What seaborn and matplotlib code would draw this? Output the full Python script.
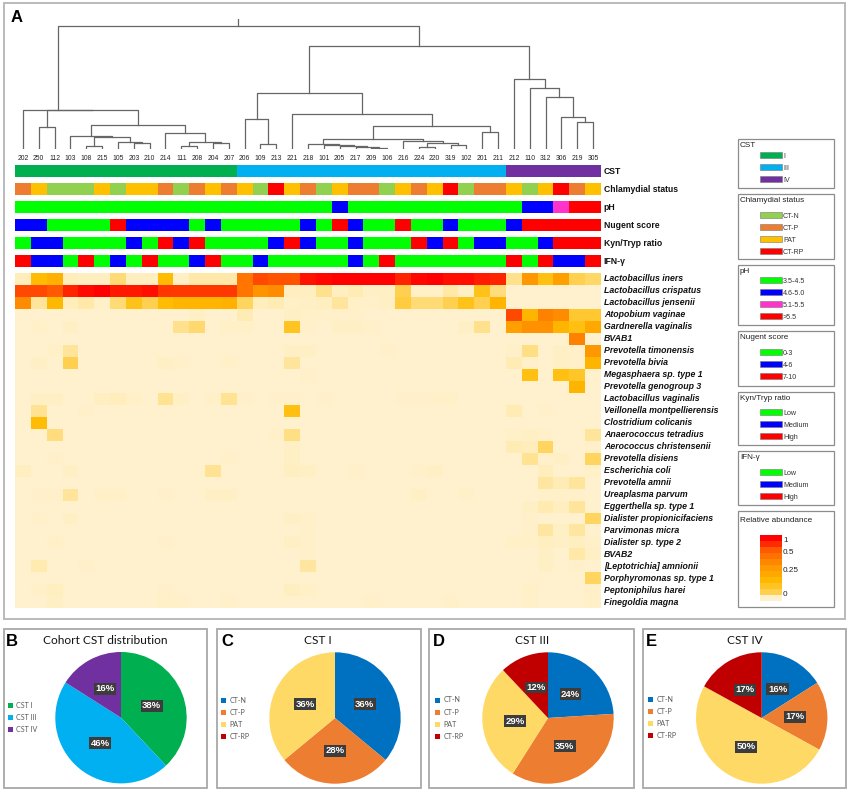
import numpy as np
import pandas as pd
import matplotlib
matplotlib.use("Agg")
import matplotlib.pyplot as plt
import seaborn as sns
from matplotlib.colors import ListedColormap, LinearSegmentedColormap
from matplotlib.patches import Rectangle, Patch

# ---------- data ----------
samples = ["202","250","112","103","108","215","105","203","210","214","111","208","204","207",
           "206","109","213","221","218","101","205","217","209","106","216","224","220","319","102","201","211",
           "212","110","312","306","219","305"]

# dendrogram: (merge height, left, right)
tree_cst1 = (39.5, "202", (39, (21.7, "250", "112"),
             (24, (13.3, "103", (12.5, (3, "108", "215"), (7.3, "105", (6, "203", "210")))),
                  (16.3, "214", (7.3, (3.3, "111", "208"), (5.7, "204", "207"))))))
tree_chain = (5, "218", (4.3, "101", (3.5, "205", (2, "217", (0.7, "209", "106")))))
tree_b = (8, "216", (6.3, (2, "224", "220"), (4, "319", "102")))
tree_cst3 = (56, (30.3, "206", (5.3, "109", "213")),
             (35.3, "221", (23, (10.3, tree_chain, tree_b), (17, "201", "211"))))
tree_cst4 = (70, "212", (61.3, "110", (52.3, "312", (32.3, "306", (27.3, "219", "305")))))
tree_root = (123, tree_cst1, (102.7, tree_cst3, tree_cst4))
root_stem_top = 130

cst_status = [0]*14 + [1]*17 + [2]*6
chlamydial = [1,2,0,0,0,2,0,2,2,1,0,1,2,1,2,0,3,2,1,0,2,1,1,0,2,1,2,3,0,1,1,2,0,2,3,1,2]
ph_status = [0]*20 + [1] + [0]*11 + [1,1,2,3,3]
nugent = [1,1,0,0,0,0,2,1,1,1,1,0,1,0,0,0,0,0,1,0,2,1,0,0,2,0,0,1,0,0,0,1,2,2,2,2,2]
kyn_tryp = [0,1,1,0,0,0,0,1,0,2,1,2,0,0,0,0,1,2,1,0,0,1,0,0,0,2,1,2,0,1,1,0,0,1,2,2,2]
ifn_gamma = [2,1,1,0,2,0,1,0,2,0,0,1,2,0,0,1,0,0,0,0,0,1,0,2,0,0,0,0,0,0,0,2,0,2,1,1,2]

species = ["Lactobacillus iners","Lactobacillus crispatus","Lactobacillus jensenii","Atopobium vaginae",
           "Gardnerella vaginalis","BVAB1","Prevotella timonensis","Prevotella bivia","Megasphaera sp. type 1",
           "Prevotella genogroup 3","Lactobacillus vaginalis","Veillonella montpellierensis","Clostridium colicanis",
           "Anaerococcus tetradius","Aerococcus christensenii","Prevotella disiens","Escherichia coli",
           "Prevotella amnii","Ureaplasma parvum","Eggerthella sp. type 1","Dialister propionicifaciens",
           "Parvimonas micra","Dialister sp. type 2","BVAB2","[Leptotrichia] amnionii","Porphyromonas sp. type 1",
           "Peptoniphilus harei","Finegoldia magna"]

ab_iners = [5,30,35,5,4,4,15,4,4,30,3,8,8,8,60,80,75,75,95,98,100,100,100,100,90,98,100,96,96,92,90,12,45,28,42,20,17]
ab_crispatus = [80,80,72,90,97,100,93,93,96,85,84,84,84,84,60,47,50,4,4,12,4,6,3,3,20,2,2,8,3,27,14,0,0,0,0,0,0]
ab_jensenii = [50,10,32,5,8,2,15,27,20,30,33,33,33,35,18,5,6,2,3,4,10,2,1,3,22,15,15,20,27,20,33,0,0,0,0,0,0]
# remaining species: mostly absent, {sample: abundance}
ab_atopobium = {"208":3,"206":6,"221":3,"218":2,"101":1,"205":1,"217":1,"212":80,"110":33,"312":55,"306":50,"219":24,"305":24}
ab_gardnerella = {"250":2,"103":3,"111":12,"208":16,"207":2,"206":2,"221":26,"218":1,"205":3,"217":3,"209":1,"102":3,"201":12,"212":42,"110":48,"312":48,"306":33,"219":28,"305":38}
ab_bvab1 = {"219":55}
ab_timonensis = {"112":2,"103":10,"221":3,"218":3,"106":1,"212":1,"110":13,"306":3,"219":1,"305":45}
ab_bivia = {"250":3,"103":20,"214":3,"111":1,"207":2,"221":10,"212":6,"110":1,"306":3,"219":1,"305":33}
ab_megasphaera = {"218":1,"110":28,"306":28,"219":25}
ab_genogroup3 = {"219":33}
ab_lvaginalis = {"250":3,"112":3,"215":4,"105":5,"203":2,"214":11,"111":3,"204":2,"207":11,"206":1,"213":1,"221":1,"101":1,"216":1,"224":1,"220":1,"319":2}
ab_veillonella = {"250":11,"108":1,"221":28,"212":6,"312":1}
ab_clostridium = {"250":30}
ab_anaerococcus = {"112":14,"213":1,"221":13,"212":2,"110":3,"312":1,"305":10}
ab_aerococcus = {"221":3,"212":6,"110":5,"312":18,"305":1}
ab_disiens = {"112":1,"207":1,"221":3,"110":11,"312":1,"306":3,"305":18}
ab_ecoli = {"202":4,"103":3,"204":11,"221":4,"218":3,"217":1,"224":1,"220":3,"312":5,"305":2}
ab_amnii = {"312":9,"306":6,"219":10}
ab_ureaplasma = {"250":1,"112":1,"103":10,"215":2,"105":2,"214":1,"204":3,"207":3,"224":3,"102":1,"312":1,"306":1,"219":1}
ab_eggerthella = {"110":3,"312":7,"306":4,"219":10}
ab_dialister_p = {"250":1,"103":3,"221":3,"218":1,"110":1,"305":18}
ab_parvimonas = {"218":1,"110":1,"312":9,"306":3,"219":9}
ab_dialister_2 = {"112":2,"214":1,"221":3,"218":1,"212":2,"110":2,"312":4,"306":3,"219":4,"305":1}
ab_bvab2 = {"218":1,"312":3,"219":8,"305":3}
ab_leptotrichia = {"250":7,"108":1,"218":9,"312":3,"219":1}
ab_porphyromonas = {"305":18}
ab_peptoniphilus = {"250":1,"112":4,"214":1,"221":4,"218":2,"110":2,"305":2}
ab_finegoldia = {"112":3,"214":2,"111":1,"207":1,"209":1,"319":1,"110":1,"305":1}

sparse_rows = [ab_atopobium,ab_gardnerella,ab_bvab1,ab_timonensis,ab_bivia,ab_megasphaera,ab_genogroup3,
               ab_lvaginalis,ab_veillonella,ab_clostridium,ab_anaerococcus,ab_aerococcus,ab_disiens,ab_ecoli,
               ab_amnii,ab_ureaplasma,ab_eggerthella,ab_dialister_p,ab_parvimonas,ab_dialister_2,ab_bvab2,
               ab_leptotrichia,ab_porphyromonas,ab_peptoniphilus,ab_finegoldia]

legend_scale_values = [100,88,72,62,52,44,38,32,26,20,0]
legend_scale_ticks = ["1","0.5","0.25","0"]

cst_pie_labels = ["CST I","CST III","CST IV"]
cst_pie_values = [38,46,16]
ct_labels = ["CT-N","CT-P","PAT","CT-RP"]
cst1_values = [36,28,36,0]
cst3_values = [24,35,29,12]
cst4_values = [16,17,50,17]

# colours
cst_colors = ["#00B050","#00B0F0","#7030A0"]
chl_colors = ["#92D050","#ED7D31","#FFC000","#FF0000"]
ph_colors = ["#00FF00","#0000FF","#FF33CC","#FF0000"]
tri_colors = ["#00FF00","#0000FF","#FF0000"]
pie_ct_colors = ["#0070C0","#ED7D31","#FFD966","#C00000"]

sns.set_theme(style="white")
plt.rcParams["font.family"] = ["Liberation Sans", "DejaVu Sans"]

W, H = 850, 792
fig = plt.figure(figsize=(8.5, 7.92), dpi=100, facecolor="white")

def axpx(x0, y0, x1, y1, **kw):
    return fig.add_axes([x0/W, 1-y1/H, (x1-x0)/W, (y1-y0)/H], **kw)

def box(x0, y0, x1, y1, color="#b4b4b4", lw=1.1):
    fig.add_artist(Rectangle((x0/W, 1-y1/H), (x1-x0)/W, (y1-y0)/H, transform=fig.transFigure,
                             fill=False, edgecolor=color, linewidth=lw))

def ftext(x, y, s, **kw):
    kw.setdefault("va", "center")
    return fig.text(x/W, 1-y/H, s, **kw)

GX0, GX1 = 15, 601

# ---------- panel A ----------
box(4, 3, 845, 619, lw=1.3)
ftext(17, 18, "A", fontsize=12, fontweight="bold", ha="center", color="black")

# dendrogram
dax = axpx(GX0, 19, GX1, 149)
dax.set_xlim(0, len(samples))
dax.set_ylim(0, root_stem_top)
line_kw = dict(color="#666666", lw=0.9, solid_capstyle="projecting")
def draw(node):
    if isinstance(node, str):
        return samples.index(node) + 0.5, 0.0
    h, l, r = node
    xl, hl = draw(l)
    xr, hr = draw(r)
    dax.plot([xl, xl, xr, xr], [hl, h, h, hr], **line_kw)
    return (xl + xr) / 2, h
rx, rh = draw(tree_root)
dax.plot([rx, rx], [rh, root_stem_top], **line_kw)
for s in dax.spines.values():
    s.set_visible(False)
dax.set_yticks([])
dax.set_xticks(np.arange(len(samples)) + 0.5)
dax.set_xticklabels(samples, fontsize=4.9, color="#222222")
dax.tick_params(axis="x", length=0, pad=4.2)
dax.patch.set_alpha(0)

# annotation rows
ann_rows = [("CST", cst_status, cst_colors, 165),
            ("Chlamydial status", chlamydial, chl_colors, 183),
            ("pH", ph_status, ph_colors, 201),
            ("Nugent score", nugent, tri_colors, 219),
            ("Kyn/Tryp ratio", kyn_tryp, tri_colors, 237),
            ("IFN-γ", ifn_gamma, tri_colors, 255)]
for name, vals, cols, top in ann_rows:
    ax = axpx(GX0, top, GX1, top + 12.3)
    sns.heatmap(np.array(vals)[None, :], ax=ax, cmap=ListedColormap(cols), vmin=-0.5, vmax=len(cols)-0.5,
                cbar=False, xticklabels=False, yticklabels=[name])
    ax.yaxis.tick_right()
    ax.tick_params(axis="y", length=0, pad=2)
    for t in ax.get_yticklabels():
        t.set(rotation=0, fontsize=6.2, fontweight="bold", color="#111111", va="center")

# main heatmap
matrix = [ab_iners, ab_crispatus, ab_jensenii]
for d in sparse_rows:
    matrix.append([d.get(s, 0) for s in samples])
df = pd.DataFrame(matrix, index=species, columns=samples)
abund = LinearSegmentedColormap.from_list("abund", [
    (0.0, "#FFF1CD"), (0.04, "#FFEEC0"), (0.10, "#FFE59A"), (0.20, "#FFD050"), (0.30, "#FFBC00"),
    (0.50, "#FF8C00"), (0.80, "#FF4800"), (1.0, "#FF0000")])
hax = axpx(GX0, 273, GX1, 608.3)
sns.heatmap(df, ax=hax, cmap=abund, vmin=0, vmax=100, cbar=False, xticklabels=False, yticklabels=True)
hax.yaxis.tick_right()
hax.tick_params(axis="y", length=0, pad=2)
for t in hax.get_yticklabels():
    t.set(rotation=0, fontsize=6.3, fontweight="bold", fontstyle="italic", color="#111111", va="center")

# side legends
def legend_box(y0, y1, title, labels, colors, first_y):
    box(738, y0, 834, y1, color="#8c8c8c", lw=0.9)
    ftext(740, y0 + 6.5, title, fontsize=5.9, color="#222222")
    for i, (lab, col) in enumerate(zip(labels, colors)):
        yy = first_y + 12 * i
        fig.add_artist(Rectangle((760/W, 1-(yy+6)/H), 22/W, 6/H, transform=fig.transFigure,
                                 facecolor=col, edgecolor="#777777", linewidth=0.4))
        ftext(783, yy + 4.5, lab, fontsize=5.1, color="#333333")

legend_box(139, 188, "CST", ["I","III","IV"], cst_colors, 152)
legend_box(194, 259, "Chlamydial status", ["CT-N","CT-P","PAT","CT-RP"], chl_colors, 212)
legend_box(265, 325, "pH", ["3.5-4.5","4.6-5.0","5.1-5.5",">5.5"], ph_colors, 277.3)
legend_box(331, 386, "Nugent score", ["0-3","4-6","7-10"], tri_colors, 349.3)
legend_box(392, 445, "Kyn/Tryp ratio", ["Low","Medium","High"], tri_colors, 409.3)
legend_box(451, 505, "IFN-γ", ["Low","Medium","High"], tri_colors, 469)
box(738, 511, 834, 607, color="#8c8c8c", lw=0.9)
ftext(740, 520, "Relative abundance", fontsize=5.9, color="#222222")
sax = axpx(760, 535, 782, 601)
sns.heatmap(np.array(legend_scale_values)[:, None], ax=sax, cmap=abund, vmin=0, vmax=100, cbar=False,
            xticklabels=False, yticklabels=False)
for lab, yy in zip(legend_scale_ticks, [541, 552.5, 570.5, 594]):
    ftext(783, yy, lab, fontsize=5.9, color="#222222")

# ---------- pies ----------
def pie_panel(frame, letter, letter_x, title, title_x, center, values, labels, colors, leg_xy):
    box(*frame, lw=1.3, color="#a8a8a8")
    ftext(letter_x, 641, letter, fontsize=12, fontweight="bold", ha="center", color="black")
    ftext(title_x, 640.5, title, fontsize=8.6, ha="center", family="Lato", color="#111111")
    cx, cy = center
    r = 65.7
    ax = axpx(cx-r, cy-r, cx+r, cy+r)
    wedges, _, autos = ax.pie(values, colors=colors, startangle=90, counterclock=False, radius=1,
                              autopct=lambda p: f"{p:.0f}%" if p > 0.5 else "", pctdistance=0.5,
                              wedgeprops=dict(linewidth=0))
    for t in autos:
        t.set(color="white", fontsize=6.8, fontweight="bold")
        t.set_bbox(dict(facecolor="#3c3c3c", edgecolor="none", pad=1.0))
    ax.set_xlim(-1, 1)
    ax.set_ylim(-1, 1)
    handles = [Patch(facecolor=c, edgecolor="none", label=l) for c, l in zip(colors, labels)]
    leg = fig.legend(handles=handles, loc="upper left",
                     bbox_to_anchor=(leg_xy[0]/W, 1-leg_xy[1]/H), frameon=False,
                     handlelength=0.7, handleheight=0.7, handletextpad=0.45, labelspacing=0.72,
                     borderpad=0, borderaxespad=0, prop=dict(family="Lato", size=5.1))
    for t in leg.get_texts():
        t.set_color("#595959")

pie_panel((3.5, 629, 207, 788), "B", 12, "Cohort CST distribution", 105, (121, 717.7),
          cst_pie_values, cst_pie_labels, cst_colors, (8, 702))
pie_panel((216.7, 629, 420.7, 788), "C", 227, "CST I", 318, (335, 718),
          cst1_values, ct_labels, pie_ct_colors, (221, 697))
pie_panel((429, 629, 634, 788), "D", 439, "CST III", 531.7, (548, 718),
          cst3_values, ct_labels, pie_ct_colors, (435, 696.5))
pie_panel((643, 629, 846, 788), "E", 651.7, "CST IV", 745, (761.7, 718),
          cst4_values, ct_labels, pie_ct_colors, (648, 695.5))

fig.savefig("out.png", dpi=100, facecolor="white")
